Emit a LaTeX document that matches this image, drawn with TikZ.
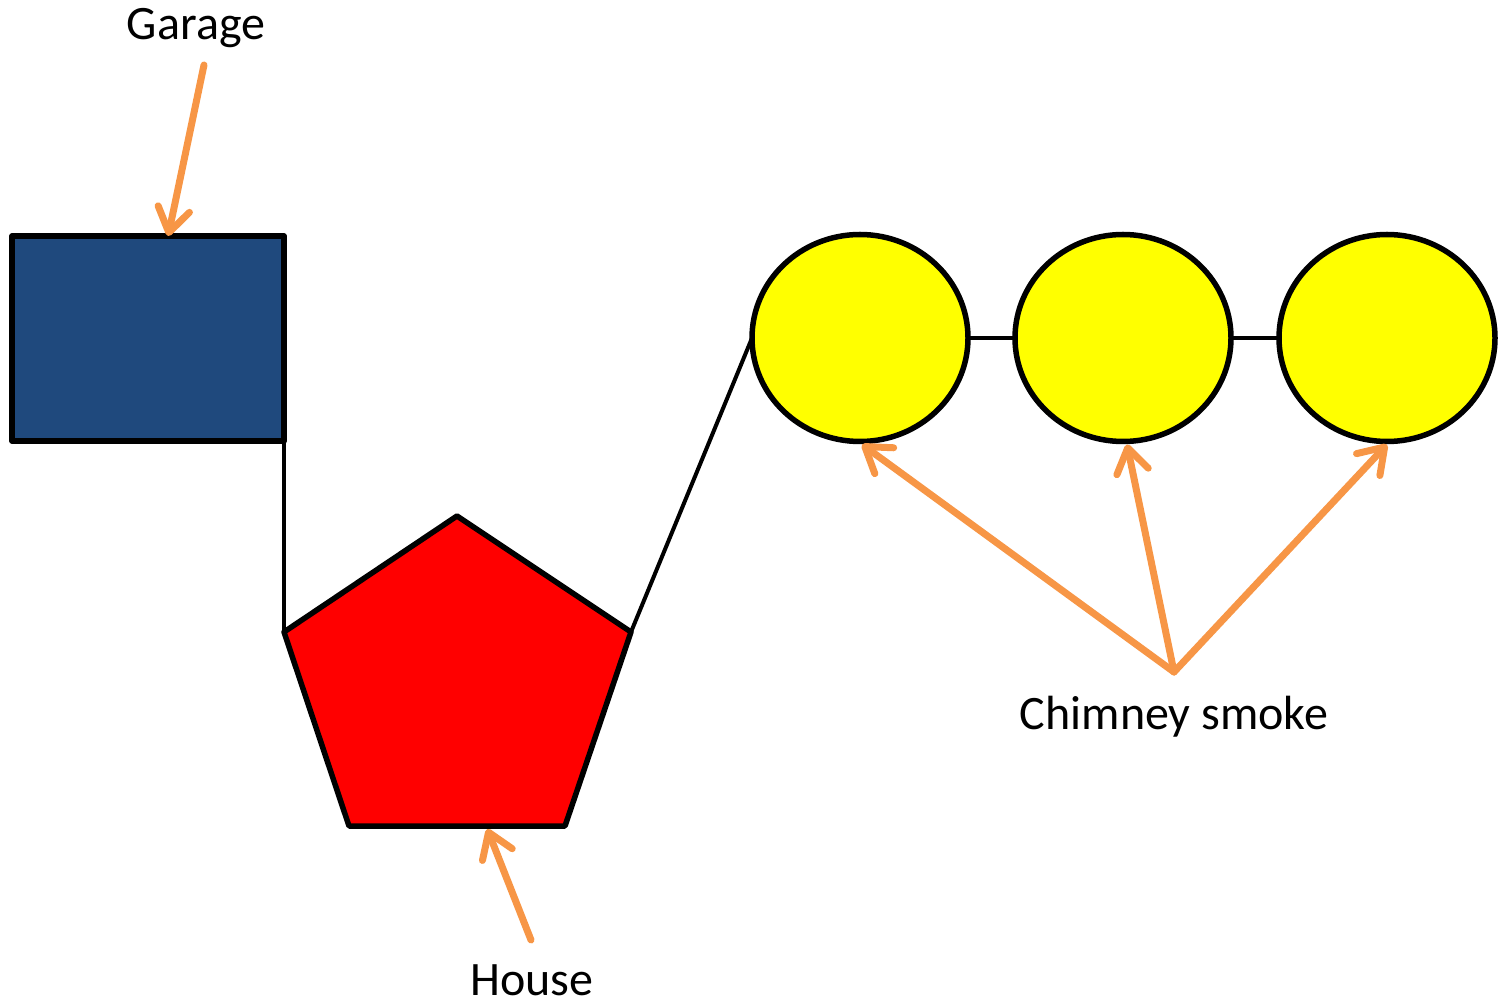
\documentclass[tikz,border=0pt]{standalone}
\usepackage{fontspec}
\setmainfont{Carlito}
\usetikzlibrary{shapes.geometric,arrows.meta,calc}
\definecolor{garageblue}{RGB}{31,73,125}
\definecolor{callout}{RGB}{247,150,70}
\definecolor{puff}{RGB}{255,255,0}
\definecolor{roof}{RGB}{255,0,0}
\tikzset{
  outline/.style={draw=black,line width=2.75pt,line join=round,outer sep=0pt},
  link/.style={draw=black,line width=2pt},
  pointer/.style={draw=callout,line width=3.5pt,line cap=round,
    -{Straight Barb[length=12pt,width=16pt,round]}},
  label/.style={font=\fontsize{24pt}{28pt}\selectfont,inner sep=0pt},
  smoke/.style={outline,ellipse,fill=puff,minimum width=108pt,minimum height=103.5pt,inner sep=0pt}
}
\begin{document}
\begin{tikzpicture}[x=0.5pt,y=-0.5pt]
  \useasboundingbox (0,0) rectangle (1503,1004);

  % garage block
  \node[outline,fill=garageblue,rectangle,minimum width=136pt,minimum height=102.5pt,inner sep=0pt]
    (garage) at (148,338.5) {};

  % house pentagon
  \coordinate (ptop) at (457,516);
  \coordinate (pright) at (631,632);
  \coordinate (pbr) at (565,826);
  \coordinate (pbl) at (349,826);
  \coordinate (pleft) at (284,632);
  \path[outline,fill=roof] (ptop) -- (pright) -- (pbr) -- (pbl) -- (pleft) -- cycle;

  % chimney smoke puffs
  \node[smoke] (c1) at (860,338) {};
  \node[smoke] (c2) at (1123,338) {};
  \node[smoke] (c3) at (1387,338) {};

  % connecting lines
  \draw[link] (garage.south east) -- (pleft);
  \draw[link] (pright) -- (c1.west);
  \draw[link] (c1.east) -- (c2.west);
  \draw[link] (c2.east) -- (c3.west);

  % labels
  \node[label,anchor=base] (lgarage) at (196,40) {Garage};
  \node[label,anchor=base] (lhouse) at (532,995) {House};
  \node[label,anchor=base] (lsmoke) at (1174,729) {Chimney smoke};

  % callout arrows
  \coordinate (gstart) at (204,65);
  \coordinate (hstart) at (531,940);
  \coordinate (sstart) at (1174,672);
  \draw[pointer] (gstart) -- ($(garage.north west)!0.574!(garage.north east)$);
  \draw[pointer] (hstart) -- ($(pbl)!0.64!(pbr)+(0,3)$);
  \draw[pointer] (sstart) -- ($(c1.south)+(2,3)$);
  \draw[pointer] (sstart) -- ($(c2.south)+(4,3)$);
  \draw[pointer] (sstart) -- ($(c3.south)+(0,3)$);
\end{tikzpicture}
\end{document}
